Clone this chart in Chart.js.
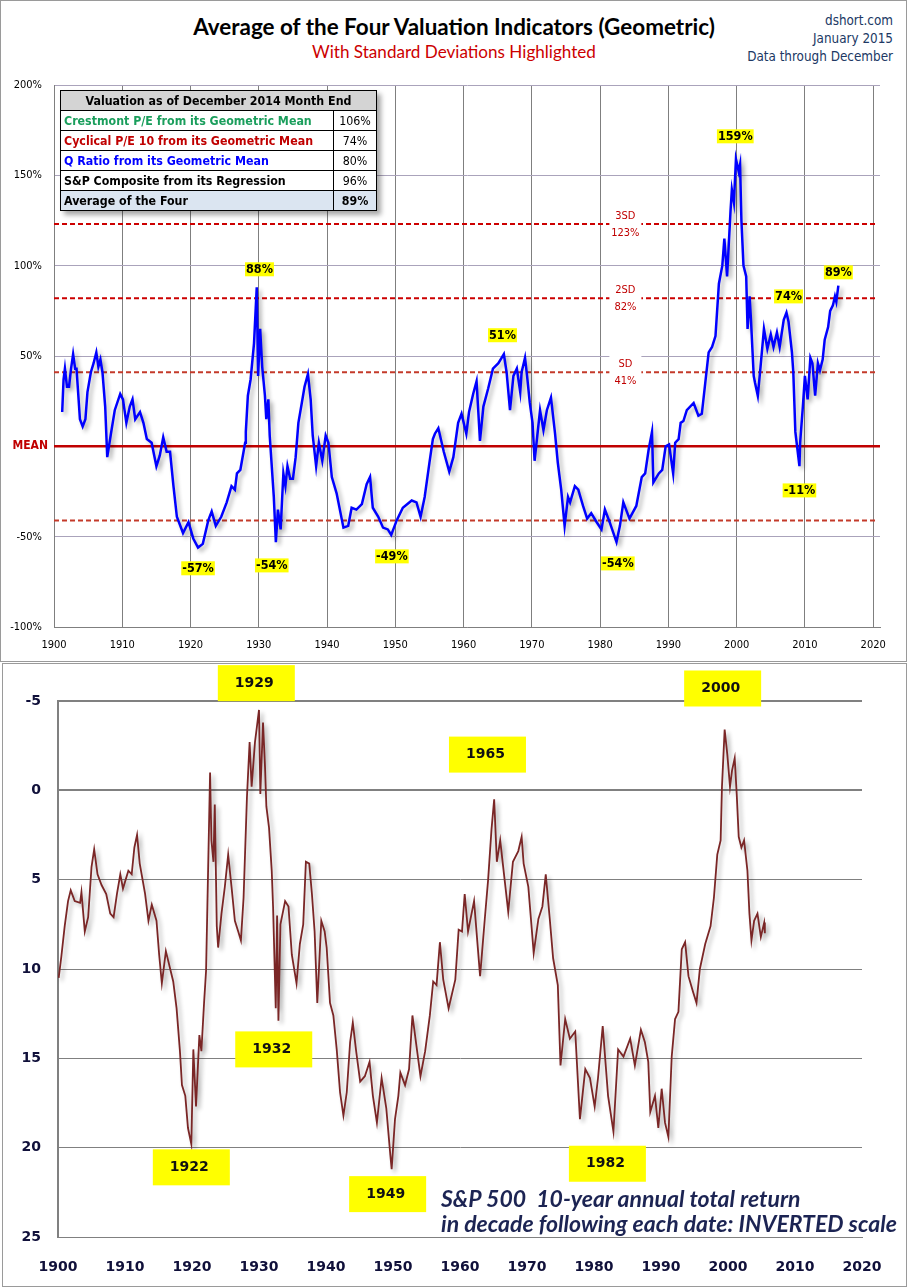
<!DOCTYPE html>
<html lang="en">
<head>
<meta charset="UTF-8">
<title>Average of the Four Valuation Indicators (Geometric)</title>
<script src="https://cdn.jsdelivr.net/npm/chart.js"></script>
<style>
  body { margin: 0; background: #fff; width: 908px; height: 1288px; position: relative; overflow: hidden; }
  .frame { position: absolute; box-sizing: border-box; border: 1px solid #9a9a9a; }
  canvas { position: absolute; left: 0; }
  .title { position: absolute; left: 0; width: 908px; text-align: center; font-family: Lato, sans-serif; }
  .title span, .side span, .caption span { display: inline-block; white-space: nowrap; }
  .side { position: absolute; right: 15px; text-align: right; font-family: 'DejaVu Sans Condensed', 'DejaVu Sans', sans-serif; font-size: 12.5px; color: #203864; line-height: 18px; }
  #tbl { position: absolute; left: 60px; top: 90px; width: 317px; border-collapse: collapse; box-shadow: 4px 4px 5px rgba(0,0,0,0.35);
         font-family: 'DejaVu Sans Condensed', 'DejaVu Sans', sans-serif; font-size: 11px; background: #fff; }
  #tbl td { border: 1px solid #000; height: 19px; padding: 0 3px; white-space: nowrap; font-weight: bold; line-height: 14px; }
  #tbl td.v { width: 36px; text-align: center; font-weight: normal; color: #000; }
  #tbl tr.head td { background: #d4d4d4; text-align: center; }
  #tbl tr.avg td { background: #dbe5f1; }
  .caption { position: absolute; left: 441px; font-family: Lato, sans-serif; font-weight: bold; font-style: italic; font-size: 19.5px; color: #1c2453; white-space: nowrap; line-height: 25px; }
</style>
</head>
<body>
  <div class="frame" style="left:0;top:0;width:907px;height:662px;"></div>
  <div class="frame" style="left:2px;top:663px;width:905px;height:624px;"></div>

  <div class="title" style="top:13px;font-size:22px;line-height:28px;font-weight:bold;color:#000;"><span id="t1">Average of the Four Valuation Indicators (Geometric)</span></div>
  <div class="title" style="top:41px;font-size:17px;line-height:22px;color:#cc0000;"><span id="t2">With Standard Deviations Highlighted</span></div>
  <div class="side" id="side" style="top:12px;"><span>dshort.com</span><br><span>January 2015</span><br><span id="t3">Data through December</span></div>

  <canvas id="valChart" width="908" height="660" style="top:0;"></canvas>
  <canvas id="retChart" width="908" height="628" style="top:660px;"></canvas>

  <table id="tbl">
    <tr class="head"><td colspan="2">Valuation as of December 2014 Month End</td></tr>
    <tr><td style="color:#1a9e5c;"><span id="t4">Crestmont P/E from its Geometric Mean</span></td><td class="v">106%</td></tr>
    <tr><td style="color:#c00000;">Cyclical P/E 10 from its Geometric Mean</td><td class="v">74%</td></tr>
    <tr><td style="color:#0000ff;">Q Ratio from its Geometric Mean</td><td class="v">80%</td></tr>
    <tr><td style="color:#000;">S&amp;P Composite from its Regression</td><td class="v">96%</td></tr>
    <tr class="avg"><td style="color:#000;">Average of the Four</td><td class="v" style="font-weight:bold;">89%</td></tr>
  </table>

  <div class="caption" id="cap" style="top:1186px;"><span>S&amp;P 500&nbsp; 10-year annual total return</span><br><span id="t5">in decade following each date: INVERTED scale</span></div>

<script>
// ---- top panel: average of the four indicators, % from mean ----
const valYears = [1901.2, 1901.4, 1901.6, 1901.9, 1902.2, 1902.5, 1902.8, 1903.1, 1903.3, 1903.8, 1904.2, 1904.6, 1904.9,
  1905.4, 1905.8, 1906.2, 1906.5, 1906.8, 1907.1, 1907.5, 1907.8, 1908.3, 1908.9, 1909.7, 1910.1, 1910.6, 1911.1, 1911.5,
  1911.9, 1912.6, 1913.1, 1913.6, 1914.3, 1915.0, 1915.5, 1916.0, 1916.5, 1917.0, 1917.5, 1918.0, 1918.9, 1919.7, 1920.4,
  1921.1, 1921.8, 1922.6, 1923.1, 1923.7, 1924.5, 1925.3, 1926.0, 1926.5, 1926.8, 1927.3, 1928.0, 1928.1, 1928.4, 1928.8,
  1929.3, 1929.7, 1929.9, 1930.2, 1930.5, 1930.9, 1931.1, 1931.4, 1931.6, 1932.2, 1932.5, 1932.8, 1933.2, 1933.6, 1933.9,
  1934.2, 1934.6, 1935.0, 1935.4, 1935.8, 1936.3, 1936.7, 1937.2, 1937.6, 1937.9, 1938.4, 1938.8, 1939.3, 1939.8, 1940.2,
  1940.7, 1941.4, 1942.4, 1943.1, 1943.6, 1944.3, 1945.1, 1945.8, 1946.3, 1946.7, 1947.5, 1948.2, 1948.9, 1949.4, 1950.2,
  1951.1, 1952.4, 1953.1, 1953.7, 1954.3, 1955.0, 1955.5, 1955.8, 1956.3, 1957.1, 1957.9, 1958.5, 1959.2, 1959.7, 1960.4,
  1960.8, 1961.4, 1961.9, 1962.4, 1962.9, 1963.6, 1964.3, 1965.1, 1965.9, 1966.3, 1966.8, 1967.3, 1967.8, 1968.3, 1968.5,
  1969.0, 1969.3, 1969.7, 1970.1, 1970.4, 1970.8, 1971.2, 1971.7, 1972.2, 1972.8, 1973.4, 1973.8, 1974.3, 1974.8, 1975.3,
  1975.6, 1976.3, 1976.8, 1977.5, 1978.1, 1978.7, 1979.5, 1980.2, 1980.7, 1981.4, 1982.4, 1982.9, 1983.4, 1984.3, 1985.3,
  1986.1, 1986.6, 1987.1, 1987.6, 1987.8, 1988.6, 1989.1, 1989.6, 1990.1, 1990.7, 1991.0, 1991.5, 1991.8, 1992.2, 1992.7,
  1993.7, 1994.4, 1994.9, 1995.4, 1995.9, 1996.4, 1996.9, 1997.4, 1997.9, 1998.2, 1998.6, 1999.1, 1999.3, 1999.6, 1999.9,
  2000.3, 2000.5, 2000.7, 2001.0, 2001.4, 2001.6, 2001.9, 2002.1, 2002.5, 2002.7, 2003.1, 2003.5, 2004.0, 2004.5, 2005.0,
  2005.4, 2005.9, 2006.3, 2006.9, 2007.3, 2007.6, 2008.1, 2008.3, 2008.6, 2009.2, 2009.3, 2009.7, 2010.0, 2010.4, 2010.8,
  2011.1, 2011.5, 2011.9, 2012.2, 2012.6, 2012.9, 2013.4, 2013.7, 2014.1, 2014.4, 2014.6, 2014.9];
const valPct = [19, 37, 43, 33, 33, 43, 51, 43, 43, 15, 11, 15, 30,
  41, 46, 52, 44, 48, 41, 22, -6, 6, 20, 29, 26, 13, 22, 26,
  15, 19, 13, 4, 2, -11, -5, 5, -3, -3, -22, -39, -48, -42, -51,
  -56, -54, -41, -36, -44, -39, -31, -22, -24, -15, -13, 2, 8, 28, 37,
  57, 88, 39, 65, 44, 28, 15, 26, 6, -28, -53, -35, -46, -15, -22,
  -11, -18, -18, -6, 13, 24, 33, 40, 26, 6, -11, 2, -8, 6, 2,
  -17, -26, -45, -44, -34, -35, -32, -21, -17, -34, -39, -45, -46, -49, -41,
  -34, -30, -31, -39, -28, -9, 4, 7, 10, -3, -14, -6, 13, 18, 7,
  19, 29, 36, 3, 22, 32, 43, 46, 51, 41, 20, 39, 43, 30, 41,
  49, 39, 24, 13, -8, 6, 20, 9, 20, 27, 7, -9, -24, -44, -28,
  -31, -22, -24, -33, -40, -37, -42, -46, -35, -42, -53, -44, -31, -40, -33,
  -17, -15, -2, 8, -20, -15, -13, 0, 1, -15, 2, 4, 13, 14, 20,
  24, 17, 18, 35, 52, 55, 61, 90, 100, 115, 94, 130, 142, 135, 159,
  152, 156, 125, 100, 94, 65, 83, 70, 39, 35, 28, 44, 65, 54, 62,
  55, 63, 55, 70, 74, 69, 52, 41, 8, -11, 2, 22, 39, 26, 49,
  46, 28, 46, 42, 48, 59, 66, 75, 78, 83, 80, 89];

const yearTicks = [1900, 1910, 1920, 1930, 1940, 1950, 1960, 1970, 1980, 1990, 2000, 2010, 2020];
const pctTicks = [-100, -50, 0, 50, 100, 150, 200];
const sdLevels = [123, 82, 41, -41];
const sdNames = ['3SD', '2SD', 'SD', ''];
const sdLabelYear = 1983.7;

// highlighted extremes: [text, year, value where the label sits]
const valCallouts = [
  ['159%', 1999.8, 171.6], ['88%', 1930.1, 98], ['51%', 1965.7, 61.5], ['74%', 2007.6, 83],
  ['89%', 2014.9, 96.3], ['-57%', 1921.1, -67.5], ['-54%', 1931.9, -65.9], ['-49%', 1949.5, -60.9],
  ['-54%', 1982.6, -64.8], ['-11%', 2009.2, -24.4]
];

// ---- bottom panel: S&P 500 10-year forward annual total return ----
const retYears = [1900.1, 1900.5, 1901.0, 1901.5, 1901.9, 1902.5, 1903.3, 1903.5, 1904.0, 1904.5, 1905.0, 1905.4, 1905.9,
  1906.5, 1907.2, 1907.8, 1908.3, 1908.8, 1909.3, 1909.7, 1910.5, 1911.0, 1911.4, 1911.8, 1912.2, 1913.0, 1913.5, 1914.0,
  1914.7, 1915.1, 1915.5, 1916.1, 1917.2, 1917.7, 1918.2, 1918.5, 1919.0, 1919.4, 1919.9, 1920.2, 1920.6, 1921.1, 1921.4,
  1921.8, 1922.1, 1922.3, 1922.7, 1922.9, 1923.2, 1923.4, 1923.7, 1923.9, 1924.4, 1924.9, 1925.4, 1925.9, 1926.4, 1926.9,
  1927.3, 1927.7, 1928.2, 1928.6, 1928.9, 1929.4, 1929.7, 1930.0, 1930.2, 1930.6, 1930.9, 1931.1, 1931.5, 1931.9, 1932.1,
  1932.5, 1932.7, 1932.9, 1933.2, 1933.9, 1934.4, 1934.9, 1935.6, 1936.1, 1936.6, 1937.0, 1937.5, 1937.9, 1938.3, 1938.7,
  1939.3, 1939.8, 1940.1, 1940.6, 1941.1, 1941.6, 1942.1, 1942.6, 1943.1, 1943.6, 1944.0, 1944.5, 1945.1, 1945.8, 1946.5,
  1947.0, 1947.6, 1948.3, 1949.0, 1949.6, 1949.8, 1950.3, 1950.8, 1951.1, 1951.8, 1952.4, 1952.9, 1953.5, 1954.1, 1954.8,
  1955.5, 1956.0, 1956.5, 1957.0, 1957.5, 1958.3, 1959.3, 1959.8, 1960.3, 1960.7, 1961.2, 1962.1, 1963.0, 1963.7, 1964.2,
  1964.7, 1965.1, 1965.5, 1966.0, 1966.6, 1967.2, 1967.9, 1968.7, 1969.2, 1969.5, 1970.2, 1971.0, 1971.7, 1972.3, 1972.8,
  1973.4, 1973.9, 1974.6, 1975.0, 1975.7, 1976.4, 1977.2, 1977.9, 1978.7, 1979.4, 1980.1, 1980.6, 1981.3, 1982.1, 1982.9,
  1983.6, 1984.4, 1985.4, 1986.1, 1987.0, 1987.6, 1988.1, 1988.4, 1989.1, 1989.6, 1990.1, 1990.6, 1991.1, 1991.6, 1992.1,
  1992.6, 1993.1, 1993.6, 1994.1, 1994.8, 1995.3, 1995.8, 1996.6, 1997.4, 1997.9, 1998.4, 1998.9, 1999.1, 1999.5, 1999.9,
  2000.3, 2000.6, 2001.0, 2001.3, 2001.6, 2002.0, 2002.4, 2002.9, 2003.2, 2003.5, 2003.9, 2004.4, 2004.9, 2005.4, 2005.5];
const retPct = [10.5, 9.3, 7.6, 6.2, 5.6, 6.2, 6.3, 5.7, 7.9, 7.1, 4.3, 3.3, 4.7,
  5.3, 5.8, 6.9, 7.1, 5.8, 4.7, 5.5, 4.5, 4.7, 3.2, 2.5, 4.1, 5.8, 7.3, 6.4,
  7.3, 9.2, 10.8, 9.0, 10.7, 12.2, 14.6, 16.5, 17.1, 18.9, 19.8, 14.5, 17.7, 13.7, 14.6,
  11.9, 10.1, 6.4, -1.0, 2.8, 4.0, 0.8, 7.6, 8.8, 6.9, 5.4, 3.6, 5.4, 7.3, 7.9,
  8.4, 6.0, 0.4, -2.7, -0.2, -2.7, -3.6, -4.5, 0.2, -3.8, -1.3, 0.9, 2.1, 4.5, 6.5,
  12.2, 7.0, 12.9, 7.5, 6.2, 6.5, 9.2, 10.8, 8.6, 7.5, 4.0, 4.1, 5.8, 7.9, 11.9,
  7.3, 7.9, 8.8, 11.9, 12.6, 14.5, 16.9, 18.2, 16.9, 14.1, 13.0, 14.6, 16.3, 16.0, 15.2,
  17.1, 18.6, 16.1, 17.8, 20.4, 21.2, 18.4, 17.1, 15.8, 16.5, 15.6, 12.6, 14.3, 16.0, 14.6,
  12.6, 10.7, 10.9, 8.5, 10.6, 12.2, 10.6, 7.8, 7.9, 5.8, 7.9, 6.2, 10.4, 7.2, 5.0,
  2.2, 0.5, 4.0, 2.8, 4.8, 6.8, 4.0, 3.4, 2.6, 4.1, 5.4, 9.1, 7.2, 6.5, 4.7,
  7.2, 9.4, 10.9, 15.4, 12.8, 13.9, 13.5, 18.4, 15.6, 16.1, 17.7, 16.1, 13.2, 17.1, 19.1,
  14.5, 14.9, 13.9, 15.4, 13.4, 14.1, 15.2, 18.0, 17.1, 18.9, 16.7, 18.6, 19.4, 14.9, 12.8,
  12.4, 8.9, 8.5, 10.4, 11.3, 11.9, 10.0, 8.6, 7.6, 6.0, 3.6, 2.8, -0.2, -3.4, -2.0,
  -0.2, -1.1, -1.8, 0.2, 2.6, 3.2, 2.8, 4.5, 6.9, 8.4, 7.3, 6.9, 8.2, 7.4, 8.0];

const retTicks = [-5, 0, 5, 10, 15, 20, 25];

// year markers in yellow boxes: [text, year, value at box centre]
const retCallouts = [
  ['1929', 1929.6, -6.0], ['2000', 1999.2, -5.7], ['1965', 1964.1, -2.0], ['1932', 1932.2, 14.5],
  ['1922', 1919.9, 21.1], ['1949', 1949.2, 22.6], ['1982', 1982.0, 20.9]
];

const COND = "'DejaVu Sans Condensed', 'DejaVu Sans', sans-serif";

// scale a text block so that one reference line gets the width it has in the original
function fitText(box, ref, width) {
  const cur = parseFloat(getComputedStyle(box).fontSize);
  const w = ref.getBoundingClientRect().width;
  if (w > 0) box.style.fontSize = (cur * width / w).toFixed(2) + 'px';
}
fitText(document.querySelector('.title'), document.getElementById('t1'), 522);
fitText(document.querySelectorAll('.title')[1], document.getElementById('t2'), 284);
fitText(document.getElementById('side'), document.getElementById('t3'), 146);
fitText(document.getElementById('tbl'), document.getElementById('t4'), 248);
fitText(document.getElementById('cap'), document.getElementById('t5'), 456);

function pairs(xs, ys) {
  return xs.map((x, i) => ({ x: x, y: ys[i] }));
}

// soft grey shadow under the main series
const shadowPlugin = {
  id: 'lineShadow',
  beforeDatasetDraw(chart, args) {
    if (!chart.data.datasets[args.index].shadow) return;
    const ctx = chart.ctx;
    ctx.save();
    ctx.shadowColor = 'rgba(0,0,0,0.32)';
    ctx.shadowBlur = 4;
    ctx.shadowOffsetX = 3;
    ctx.shadowOffsetY = 3;
  },
  afterDatasetDraw(chart, args) {
    if (!chart.data.datasets[args.index].shadow) return;
    chart.ctx.restore();
  }
};

const valLabels = {
  id: 'valLabels',
  afterDraw(chart) {
    const ctx = chart.ctx;
    const xs = chart.scales.x, ys = chart.scales.y;
    ctx.save();
    // SD labels sit in a white gap across the dashed lines
    const cx = xs.getPixelForValue(sdLabelYear);
    ctx.font = '11px ' + COND;
    ctx.textAlign = 'center';
    ctx.textBaseline = 'middle';
    sdLevels.forEach((lvl, i) => {
      if (!sdNames[i]) return;
      const py = ys.getPixelForValue(lvl);
      ctx.fillStyle = '#fff';
      ctx.fillRect(cx - 16, py - 17, 32, 34);
      ctx.fillStyle = '#c00000';
      ctx.fillText(sdNames[i], cx, py - 8);
      ctx.fillText(lvl + '%', cx, py + 9);
    });
    // MEAN on the axis
    ctx.font = 'bold 12px ' + COND;
    ctx.textAlign = 'right';
    ctx.fillStyle = '#c00000';
    ctx.fillText('MEAN', xs.left - 6, ys.getPixelForValue(0));
    // yellow callouts
    ctx.font = 'bold 12.5px ' + COND;
    ctx.textAlign = 'center';
    valCallouts.forEach(c => {
      const px = xs.getPixelForValue(c[1]), py = ys.getPixelForValue(c[2]);
      const w = ctx.measureText(c[0]).width + 2;
      ctx.fillStyle = '#ffff00';
      ctx.fillRect(px - w / 2, py - 7, w, 14);
      ctx.fillStyle = '#000';
      ctx.fillText(c[0], px, py + 0.5);
    });
    ctx.restore();
  }
};

const retLabels = {
  id: 'retLabels',
  afterDraw(chart) {
    const ctx = chart.ctx;
    const xs = chart.scales.x, ys = chart.scales.y;
    ctx.save();
    ctx.font = 'bold 14px "DejaVu Sans", sans-serif';
    ctx.textAlign = 'center';
    ctx.textBaseline = 'middle';
    retCallouts.forEach(c => {
      const px = xs.getPixelForValue(c[1]), py = ys.getPixelForValue(c[2]);
      ctx.fillStyle = '#ffff00';
      ctx.fillRect(px - 38.5, py - 18, 77, 36);
      ctx.fillStyle = '#111';
      ctx.fillText(c[0], px - 2, py);
    });
    ctx.restore();
  }
};

// reference lines: mean and standard deviation bands
const refSets = [{
  data: [{ x: 1900, y: 0 }, { x: 2021, y: 0 }],
  borderColor: '#c00000', borderWidth: 2.5, pointRadius: 0, order: 1
}];
sdLevels.forEach(lvl => {
  refSets.push({
    data: [{ x: 1900, y: lvl }, { x: 2020.7, y: lvl }],
    borderColor: Math.abs(lvl) === 41 ? '#c43a2a' : '#cc0000',
    borderWidth: 2, borderDash: [5, 3], pointRadius: 0, order: 1
  });
});

new Chart(document.getElementById('valChart'), {
  type: 'line',
  data: {
    datasets: [{
      data: pairs(valYears, valPct),
      borderColor: '#0000ff', borderWidth: 2.5, pointRadius: 0, tension: 0, order: 0, shadow: true
    }].concat(refSets)
  },
  options: {
    responsive: false, animation: false, events: [],
    layout: { padding: { top: 85, right: 28, left: 0, bottom: 0 } },
    plugins: { legend: { display: false }, tooltip: { enabled: false } },
    scales: {
      x: {
        type: 'linear', min: 1900, max: 2021,
        afterBuildTicks: s => { s.ticks = yearTicks.map(v => ({ value: v })); },
        afterFit: s => { s.height = 33; },
        ticks: { padding: 12, color: '#000', font: { family: COND, size: 11 }, callback: v => String(v) },
        grid: { color: '#7f7f7f', lineWidth: 1, drawTicks: false },
        border: { display: true, color: '#7f7f7f' }
      },
      y: {
        type: 'linear', min: -100, max: 200,
        afterBuildTicks: s => { s.ticks = pctTicks.map(v => ({ value: v })); },
        afterFit: s => { s.width = 54; },
        ticks: { padding: 12, color: '#000', font: { family: COND, size: 11 },
                 callback: v => v === 0 ? '' : v + '%' },
        grid: { color: '#aaa3bb', lineWidth: 1, drawTicks: false },
        border: { display: true, color: '#7f7f7f' }
      }
    }
  },
  plugins: [shadowPlugin, valLabels]
});

new Chart(document.getElementById('retChart'), {
  type: 'line',
  data: {
    datasets: [{
      data: pairs(retYears, retPct),
      borderColor: '#7a2626', borderWidth: 1.8, pointRadius: 0, tension: 0, shadow: true
    }]
  },
  options: {
    responsive: false, animation: false, events: [],
    layout: { padding: { top: 41, right: 46, left: 0, bottom: 0 } },
    plugins: { legend: { display: false }, tooltip: { enabled: false } },
    scales: {
      x: {
        type: 'linear', min: 1900, max: 2020,
        afterBuildTicks: s => { s.ticks = yearTicks.map(v => ({ value: v })); },
        afterFit: s => { s.height = 51; },
        ticks: { padding: 14, color: '#10103a', font: { family: 'DejaVu Sans', size: 14, weight: 'bold' }, callback: v => String(v) },
        grid: { display: false },
        border: { display: true, color: '#808080', width: 1 }
      },
      y: {
        type: 'linear', min: -5, max: 25, reverse: true,
        afterBuildTicks: s => { s.ticks = retTicks.map(v => ({ value: v })); },
        afterFit: s => { s.width = 58; },
        ticks: { padding: 17, color: '#10103a', font: { family: 'DejaVu Sans', size: 14, weight: 'bold' } },
        grid: { color: '#808080', lineWidth: c => (c.tick && c.tick.value <= 0) ? 2 : 1, drawTicks: false },
        border: { display: true, color: '#808080', width: 2 }
      }
    }
  },
  plugins: [shadowPlugin, retLabels]
});
</script>
</body>
</html>
